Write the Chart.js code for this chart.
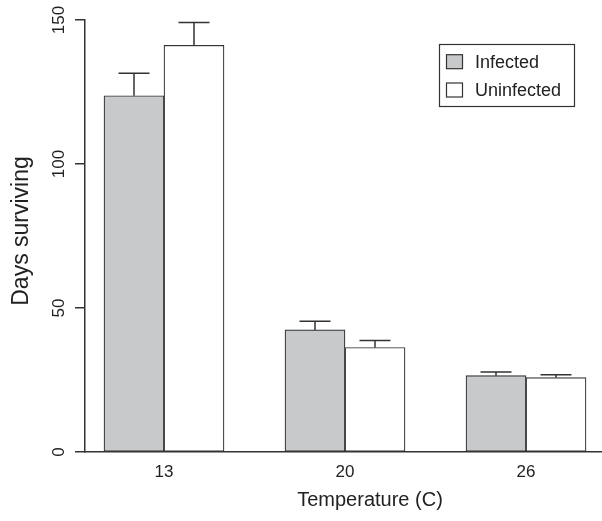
<!DOCTYPE html>
<html>
<head>
<meta charset="utf-8">
<script src="https://cdn.jsdelivr.net/npm/chart.js@4/dist/chart.umd.min.js"></script>
<style>
  html, body { margin: 0; padding: 0; background: #fff; }
  #wrap { width: 602px; height: 521px; }
</style>
</head>
<body>
<div id="wrap"><canvas id="chart1"></canvas></div>
<script>
// data
const temps = ['13', '20', '26'];
const infected = [123.7, 42.4, 26.5];
const infectedErr = [7.8, 3.0, 1.3];
const uninfected = [141.2, 36.3, 25.8];
const uninfectedErr = [7.9, 2.4, 1.0];
const yTicks = [0, 50, 100, 150];

const FONT = "'Liberation Sans', Arial, sans-serif";
const INK = '#333';

// groups sit at positions 1, 2, 3 on a linear x scale
function toPoints(values) {
  return values.map(function(v, i) { return { x: i + 1, y: v }; });
}

const errorBars = {
  id: 'errorBars',
  afterDatasetsDraw(chart) {
    const ctx = chart.ctx;
    const yScale = chart.scales.y;
    ctx.save();
    ctx.strokeStyle = INK;
    ctx.lineWidth = 1.5;
    chart.data.datasets.forEach(function(ds, di) {
      const meta = chart.getDatasetMeta(di);
      meta.data.forEach(function(bar, i) {
        const top = yScale.getPixelForValue(ds.data[i].y + ds.errors[i]);
        ctx.beginPath();
        ctx.moveTo(bar.x, bar.y);
        ctx.lineTo(bar.x, top);
        ctx.moveTo(bar.x - 15.5, top);
        ctx.lineTo(bar.x + 15.5, top);
        ctx.stroke();
      });
    });
    ctx.restore();
  }
};

const extraText = {
  id: 'extraText',
  afterDraw(chart) {
    const ctx = chart.ctx;
    const yScale = chart.scales.y;
    ctx.save();
    ctx.fillStyle = '#222';

    // y tick labels, rotated like R's las=0
    ctx.font = '17px ' + FONT;
    ctx.textAlign = 'center';
    ctx.textBaseline = 'middle';
    yScale.ticks.forEach(function(t) {
      const y = yScale.getPixelForValue(t.value);
      ctx.save();
      ctx.translate(59, y);
      ctx.rotate(-Math.PI / 2);
      ctx.fillText(String(t.value), 0, 0);
      ctx.restore();
    });

    // axis titles
    ctx.save();
    ctx.font = '23px ' + FONT;
    ctx.translate(22, 231);
    ctx.rotate(-Math.PI / 2);
    ctx.fillText('Days surviving', 0, 0);
    ctx.restore();

    ctx.font = "20px 'Liberation Sans Narrow', 'Liberation Sans', sans-serif";
    ctx.fillText('Temperature (C)', 370, 500);

    // legend
    ctx.strokeStyle = INK;
    ctx.lineWidth = 1.2;
    ctx.strokeRect(439.5, 44.5, 135, 62);
    ctx.font = '18px ' + FONT;
    ctx.textAlign = 'left';
    const rows = [61.7, 90];
    chart.data.datasets.forEach(function(ds, i) {
      ctx.fillStyle = ds.backgroundColor;
      ctx.fillRect(446.5, rows[i] - 7, 16, 14);
      ctx.strokeRect(446.5, rows[i] - 7, 16, 14);
      ctx.fillStyle = '#222';
      ctx.fillText(ds.label, 475, rows[i] + 1);
    });
    ctx.restore();
  }
};

const chartData = {
  datasets: [{
    label: 'Infected',
    data: toPoints(infected),
    errors: infectedErr,
    backgroundColor: '#c8c9cb',
    borderColor: INK,
    borderWidth: 1.2,
    borderSkipped: false
  }, {
    label: 'Uninfected',
    data: toPoints(uninfected),
    errors: uninfectedErr,
    backgroundColor: '#ffffff',
    borderColor: INK,
    borderWidth: 1.2,
    borderSkipped: false
  }]
};

const config = {
  type: 'bar',
  data: chartData,
  options: {
    responsive: true,
    maintainAspectRatio: false,
    animation: false,
    layout: { padding: { top: 20, right: 1, left: 0, bottom: 0 } },
    datasets: { bar: { barThickness: 60 } },
    plugins: {
      legend: { display: false },
      tooltip: { enabled: false }
    },
    scales: {
      x: {
        type: 'linear',
        offset: false,
        min: 1 - 79 / 181,
        max: 3 + 75 / 181,
        afterBuildTicks: function(scale) {
          scale.ticks = temps.map(function(t, i) { return { value: i + 1 }; });
        },
        afterFit: function(scale) { scale.height = 69; },
        grid: { display: false, drawTicks: false, offset: false },
        border: { display: true, color: INK, width: 1.5 },
        ticks: {
          padding: 10,
          color: '#222',
          font: { family: FONT, size: 17 },
          callback: function(value) { return temps[value - 1]; }
        }
      },
      y: {
        min: 0,
        max: 150,
        afterBuildTicks: function(scale) {
          scale.ticks = yTicks.map(function(v) { return { value: v }; });
        },
        afterFit: function(scale) { scale.width = 85; },
        grid: { drawOnChartArea: false, drawTicks: true, tickLength: 10, color: INK, lineWidth: 1.5 },
        border: { display: true, color: INK, width: 1.5 },
        ticks: { display: false }
      }
    }
  },
  plugins: [errorBars, extraText]
};

new Chart(document.getElementById('chart1').getContext('2d'), config);
</script>
</body>
</html>
